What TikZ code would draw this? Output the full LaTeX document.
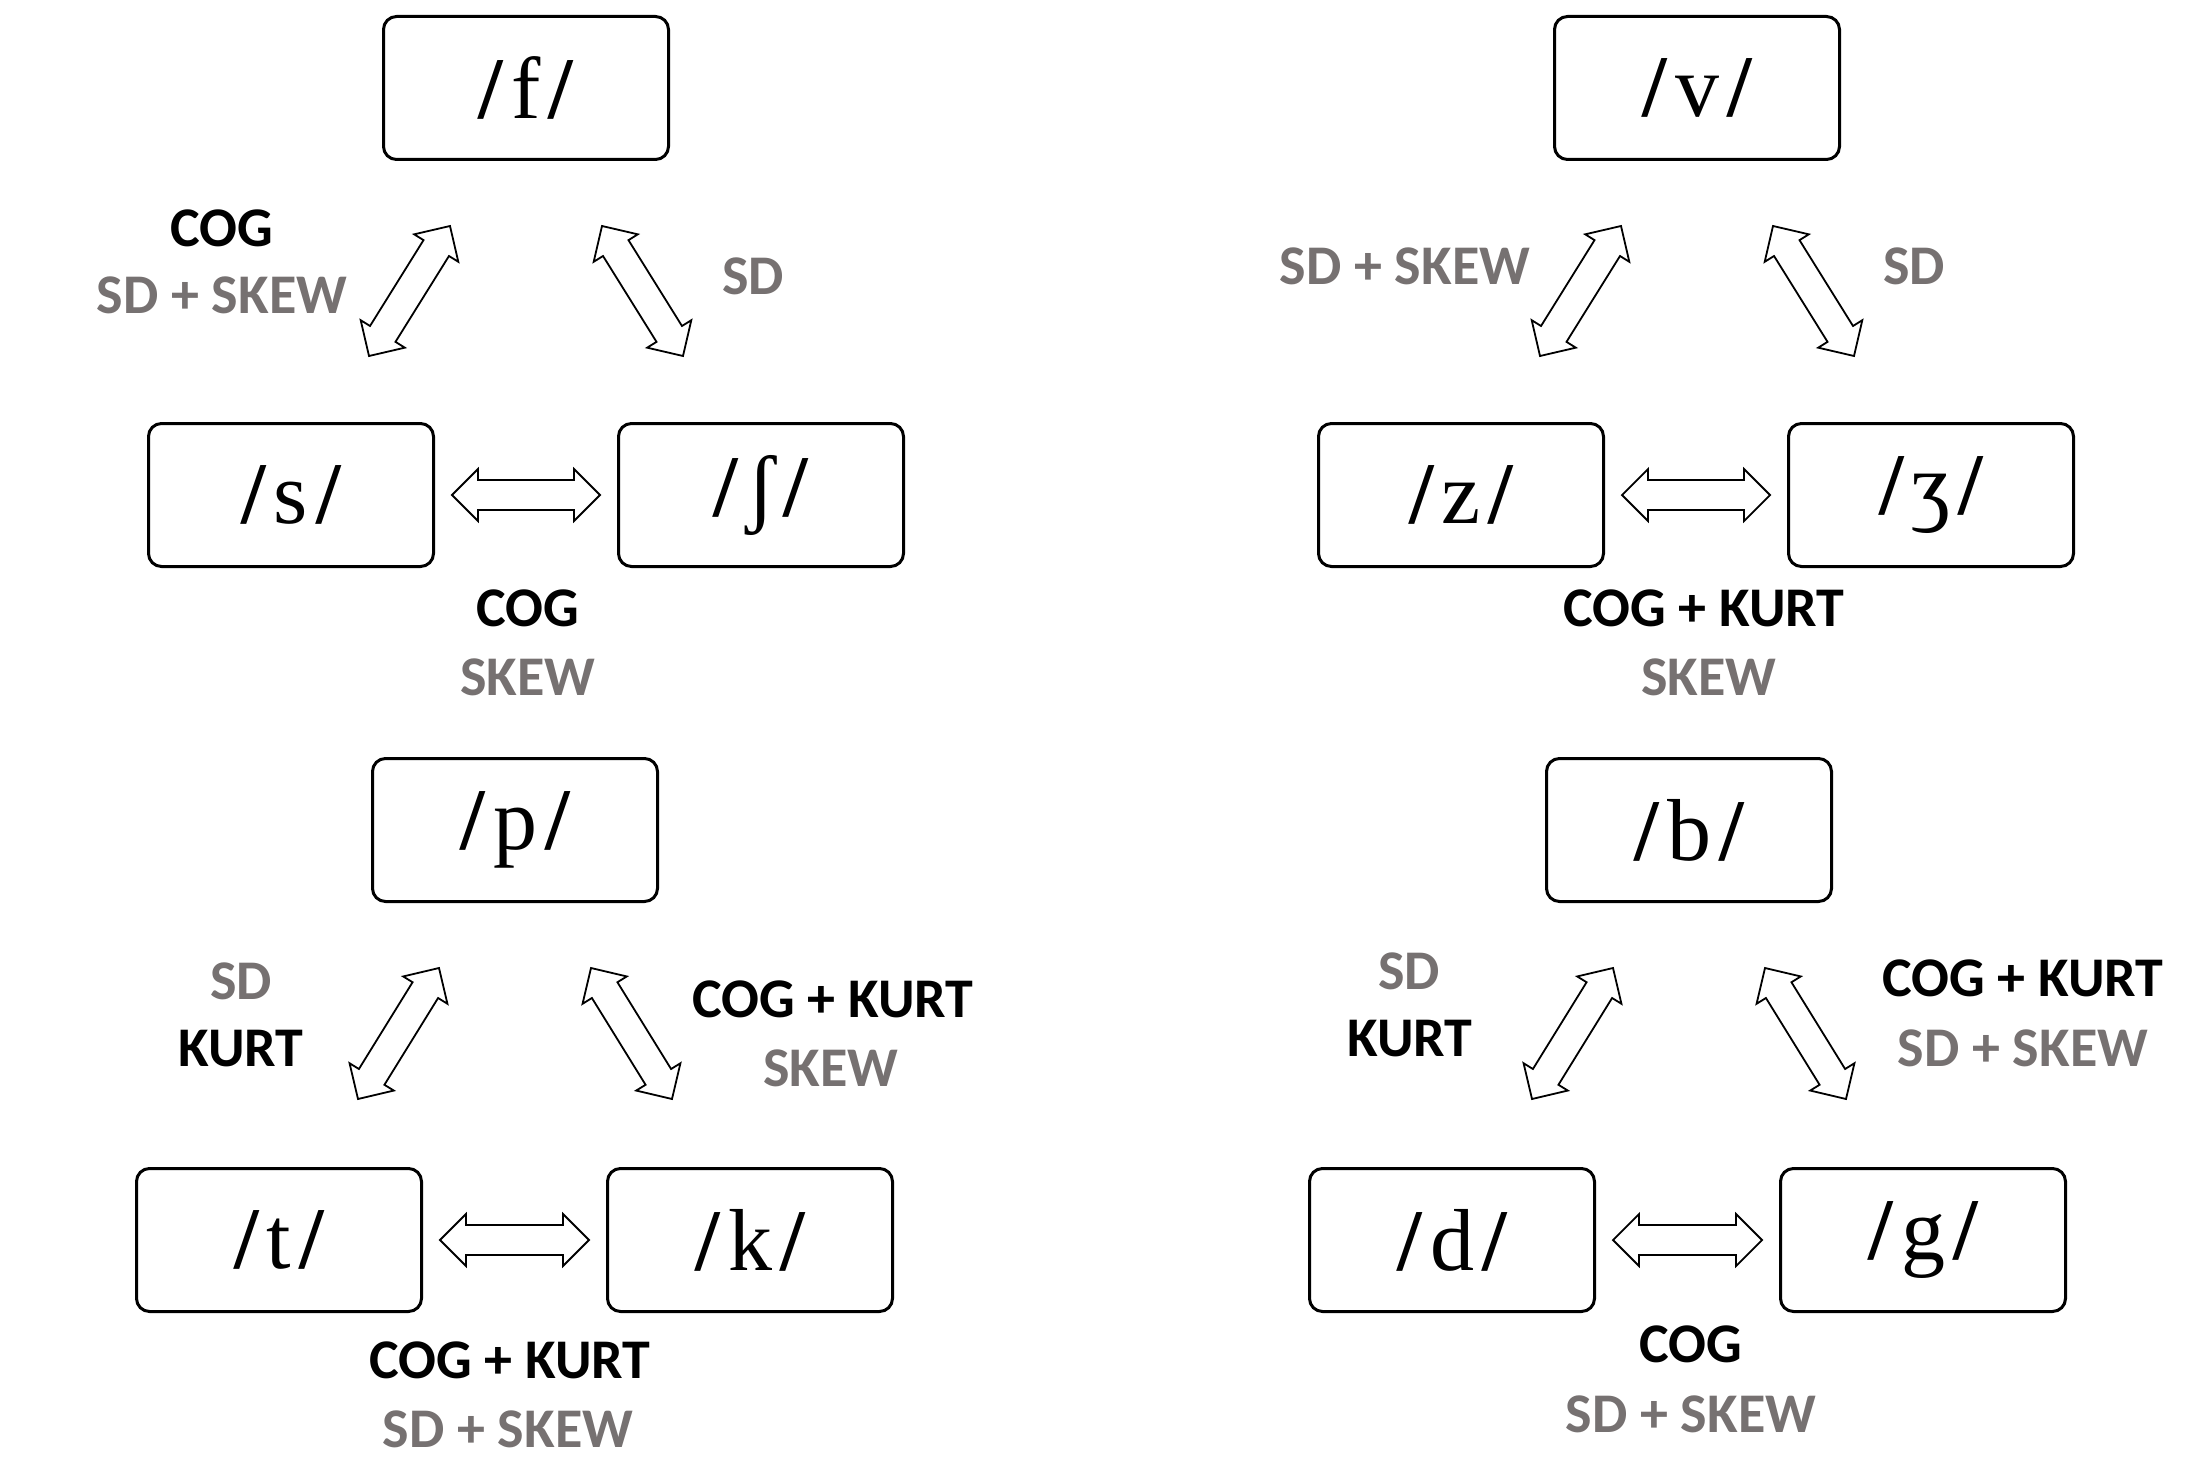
\documentclass[tikz,border=0pt]{standalone}
\usepackage{fontspec}
\setmainfont{Liberation Serif}
\newfontfamily\labfam{Carlito}
\usetikzlibrary{calc}
\definecolor{lgrey}{RGB}{118,113,113}
\newcommand\phon{\fontsize{88}{88}\selectfont}
\newcommand\ph[1]{{\bfseries/}\kern8pt#1\kern8pt{\bfseries/}}
\newcommand\labfont{\labfam\bfseries\fontsize{56}{56}\selectfont}
\newcommand\blockarrow[2]{%
\draw[barrow] (#1)
 -- ($(#1)!26pt!(#2)!26pt!90:(#2)$)
 -- ($(#1)!26pt!(#2)!15pt!90:(#2)$)
 -- ($(#2)!26pt!(#1)!15pt!-90:(#1)$)
 -- ($(#2)!26pt!(#1)!26pt!-90:(#1)$)
 -- (#2)
 -- ($(#2)!26pt!(#1)!26pt!90:(#1)$)
 -- ($(#2)!26pt!(#1)!15pt!90:(#1)$)
 -- ($(#1)!26pt!(#2)!15pt!-90:(#2)$)
 -- ($(#1)!26pt!(#2)!26pt!-90:(#2)$)
 -- cycle;}
\begin{document}
\begin{tikzpicture}[x=1pt,y=-1pt,
  phbox/.style={draw, line width=3pt, rounded corners=13pt, minimum width=285pt, minimum height=143pt, inner sep=0pt, font=\phon},
  barrow/.style={draw, line width=1.8pt, fill=white, line join=miter},
  blk/.style={font=\labfont, text=black, inner sep=0pt},
  gry/.style={font=\labfont, text=lgrey, inner sep=0pt}]
\useasboundingbox (0,0) rectangle (2203,1463);
\fill[white] (0,0) rectangle (2203,1463);

% ---------- group 1: f s sh
\node[phbox] (f) at (526,88) {\ph{f}};
\node[phbox] (s) at (291,495) {\ph{s}};
\node[phbox] (sh) at (761,495) {\ph{ʃ}};
\coordinate (f1) at ($(f)+(-157,268)$);
\coordinate (f2) at ($(f)+(-76,138)$);
\coordinate (f3) at ($(f)+(76,138)$);
\coordinate (f4) at ($(f)+(157,268)$);
\coordinate (s1) at ($(s.east)+(17,0)$);
\coordinate (sh1) at ($(sh.west)+(-17,0)$);
\blockarrow{f1}{f2}
\blockarrow{f3}{f4}
\blockarrow{s1}{sh1}
\node[blk] (g1a) at (222,228) {COG};
\node[gry] (g1b) at (222,295) {SD + SKEW};
\node[gry] (g1c) at (753,276) {SD};
\node[blk] (g1d) at (528,608) {COG};
\node[gry] (g1e) at (528,677) {SKEW};

% ---------- group 2: v z zh
\node[phbox] (v) at (1697,88) {\ph{v}};
\node[phbox] (z) at (1461,495) {\ph{z}};
\node[phbox] (zh) at (1931,495) {\ph{ʒ}};
\coordinate (v1) at ($(v)+(-157,268)$);
\coordinate (v2) at ($(v)+(-76,138)$);
\coordinate (v3) at ($(v)+(76,138)$);
\coordinate (v4) at ($(v)+(157,268)$);
\coordinate (z1) at ($(z.east)+(17,0)$);
\coordinate (zh1) at ($(zh.west)+(-17,0)$);
\blockarrow{v1}{v2}
\blockarrow{v3}{v4}
\blockarrow{z1}{zh1}
\node[gry] (g2a) at (1405,266) {SD + SKEW};
\node[gry] (g2b) at (1914,266) {SD};
\node[blk] (g2c) at (1704,608) {COG + KURT};
\node[gry] (g2d) at (1709,677) {SKEW};

% ---------- group 3: p t k
\node[phbox] (p) at (515,830) {\ph{p}};
\node[phbox] (t) at (279,1240) {\ph{t}};
\node[phbox] (k) at (750,1240) {\ph{k}};
\coordinate (p1) at ($(p)+(-157,269)$);
\coordinate (p2) at ($(p)+(-76,138)$);
\coordinate (p3) at ($(p)+(76,138)$);
\coordinate (p4) at ($(p)+(157,269)$);
\coordinate (t1) at ($(t.east)+(17,0)$);
\coordinate (k1) at ($(k.west)+(-17,0)$);
\blockarrow{p1}{p2}
\blockarrow{p3}{p4}
\blockarrow{t1}{k1}
\node[gry] (g3a) at (241,981) {SD};
\node[blk] (g3b) at (241,1049) {KURT};
\node[blk] (g3c) at (833,999) {COG + KURT};
\node[gry] (g3d) at (831,1068) {SKEW};
\node[blk] (g3e) at (510,1360) {COG + KURT};
\node[gry] (g3f) at (508,1429) {SD + SKEW};

% ---------- group 4: b d g
\node[phbox] (b) at (1689,830) {\ph{b}};
\node[phbox] (d) at (1452,1240) {\ph{d}};
\node[phbox] (g) at (1923,1240) {\ph{g}};
\coordinate (b1) at ($(b)+(-157,269)$);
\coordinate (b2) at ($(b)+(-76,138)$);
\coordinate (b3) at ($(b)+(76,138)$);
\coordinate (b4) at ($(b)+(157,269)$);
\coordinate (d1) at ($(d.east)+(17,0)$);
\coordinate (g1) at ($(g.west)+(-17,0)$);
\blockarrow{b1}{b2}
\blockarrow{b3}{b4}
\blockarrow{d1}{g1}
\node[gry] (g4a) at (1409,971) {SD};
\node[blk] (g4b) at (1410,1039) {KURT};
\node[blk] (g4c) at (2023,978) {COG + KURT};
\node[gry] (g4d) at (2023,1048) {SD + SKEW};
\node[blk] (g4e) at (1691,1344) {COG};
\node[gry] (g4f) at (1691,1414) {SD + SKEW};
\end{tikzpicture}
\end{document}
